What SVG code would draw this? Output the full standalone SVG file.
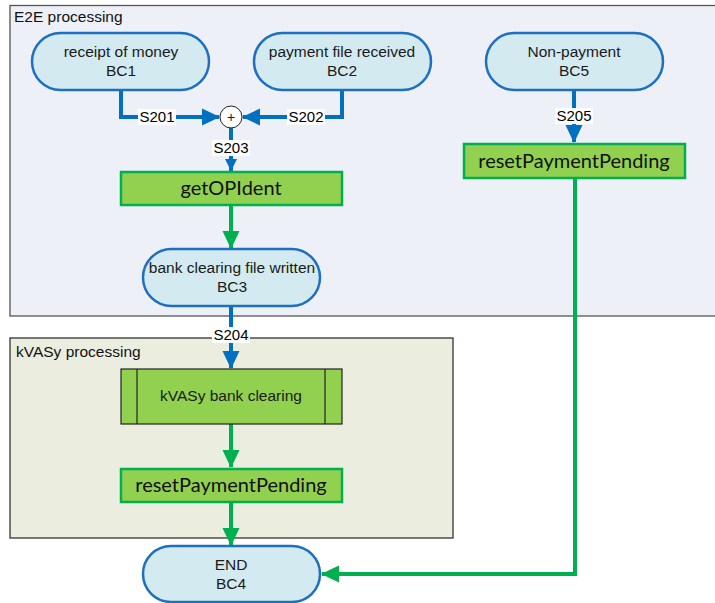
<svg xmlns="http://www.w3.org/2000/svg" width="715" height="603" viewBox="0 0 715 603">
<style>
.frame-e2e{fill:#EDF0F6;stroke:#555;stroke-width:1.3}
.frame-kv{fill:#EBEEDF;stroke:#333;stroke-width:1.3}
.ftitle{font-family:"Liberation Sans",Arial,sans-serif;font-size:15.5px;fill:#111}
.pill{fill:#D3EAF0;stroke:#1F6FC1;stroke-width:2.5}
.ptext{font-family:"Liberation Sans",Arial,sans-serif;font-size:15.5px;fill:#1a1a1a;text-anchor:middle}
.act{fill:#92D050;stroke:#00B050;stroke-width:2.5}
.atext{font-family:Lato,"Open Sans",sans-serif;font-size:20px;fill:#111;text-anchor:middle}
.sub{fill:#92D050;stroke:#222;stroke-width:1.2}
.blue{fill:none;stroke:#0070C0;stroke-width:4}
.green{fill:none;stroke:#00B050;stroke-width:4}
.lbl{font-family:"Liberation Sans",Arial,sans-serif;font-size:15px;fill:#000;text-anchor:middle}
.lblbg{fill:#fff}
</style>
<defs>
<marker id="ab" markerUnits="userSpaceOnUse" markerWidth="18" markerHeight="18" refX="17" refY="9" orient="auto"><path d="M0,0.5 L18,9 L0,17.5 z" fill="#0070C0"/></marker>
<marker id="abs" markerUnits="userSpaceOnUse" markerWidth="13" markerHeight="13" refX="12" refY="6.5" orient="auto"><path d="M0,0.5 L12,6.5 L0,12.5 z" fill="#0070C0"/></marker>
<marker id="ag" markerUnits="userSpaceOnUse" markerWidth="18" markerHeight="18" refX="17" refY="9" orient="auto"><path d="M0,0.5 L18,9 L0,17.5 z" fill="#00B050"/></marker>
</defs>

<g id="frame-e2e">
<rect class="frame-e2e" x="10" y="5.5" width="720" height="310.5"/>
<text class="ftitle" x="14" y="22">E2E processing</text>
</g>
<g id="frame-kvasy">
<rect class="frame-kv" x="10" y="338" width="443" height="200"/>
<text class="ftitle" x="16" y="357">kVASy processing</text>
</g>

<g id="connectors">
<path class="blue" d="M121,90 V117 H219" marker-end="url(#ab)"/>
<path class="blue" d="M342,90 V117 H243" marker-end="url(#ab)"/>
<path class="blue" d="M231,128 V171" marker-end="url(#abs)"/>
<path class="green" d="M231,205 V248" marker-end="url(#ag)"/>
<path class="blue" d="M231,306 V368" marker-end="url(#ab)"/>
<path class="blue" d="M574,90 V142" marker-end="url(#ab)"/>
<path class="green" d="M231,424 V467" marker-end="url(#ag)"/>
<path class="green" d="M231,503 V545" marker-end="url(#ag)"/>
<path class="green" d="M575,178 V574 H322" marker-end="url(#ag)"/>
<rect class="lblbg" x="138" y="109" width="38" height="16"/>
<text class="lbl" x="157" y="122">S201</text>
<rect class="lblbg" x="287" y="109" width="38" height="16"/>
<text class="lbl" x="306" y="122">S202</text>
<rect class="lblbg" x="212" y="140" width="38" height="16"/>
<text class="lbl" x="231" y="153">S203</text>
<rect class="lblbg" x="212" y="327" width="38" height="16"/>
<text class="lbl" x="231" y="340">S204</text>
<rect class="lblbg" x="555" y="108" width="38" height="16"/>
<text class="lbl" x="574" y="121">S205</text>
</g>

<g id="BC1">
<rect class="pill" x="32" y="33" width="177" height="57" rx="28.5"/>
<text class="ptext" x="121" y="57">receipt of money</text>
<text class="ptext" x="121" y="76">BC1</text>
</g>
<g id="BC2">
<rect class="pill" x="254" y="33" width="177" height="57" rx="28.5"/>
<text class="ptext" x="342" y="57">payment file received</text>
<text class="ptext" x="342" y="76">BC2</text>
</g>
<g id="BC5">
<rect class="pill" x="486" y="33" width="177" height="57" rx="28.5"/>
<text class="ptext" x="574" y="57">Non-payment</text>
<text class="ptext" x="574" y="76">BC5</text>
</g>
<g id="join">
<circle cx="231" cy="117" r="11" fill="#fff" stroke="#222" stroke-width="1"/>
<text class="ptext" x="231" y="122" style="font-size:14px">+</text>
</g>
<g id="getOPIdent">
<rect class="act" x="121" y="172" width="221" height="33"/>
<text class="atext" x="231" y="195">getOPIdent</text>
</g>
<g id="resetPaymentPending-1">
<rect class="act" x="464" y="144" width="221" height="34"/>
<text class="atext" x="574" y="168">resetPaymentPending</text>
</g>
<g id="BC3">
<rect class="pill" x="143" y="249" width="177" height="57" rx="28.5"/>
<text class="ptext" x="232" y="273">bank clearing file written</text>
<text class="ptext" x="232" y="292">BC3</text>
</g>
<g id="kvasy-bank-clearing">
<rect class="sub" x="121" y="369" width="221" height="55"/>
<line x1="137" y1="369" x2="137" y2="424" stroke="#222" stroke-width="1.2"/>
<line x1="325" y1="369" x2="325" y2="424" stroke="#222" stroke-width="1.2"/>
<text class="ptext" x="231" y="401">kVASy bank clearing</text>
</g>
<g id="resetPaymentPending-2">
<rect class="act" x="121" y="469" width="221" height="33"/>
<text class="atext" x="231" y="492">resetPaymentPending</text>
</g>
<g id="BC4">
<rect class="pill" x="143" y="546" width="177" height="56" rx="28"/>
<text class="ptext" x="231" y="570">END</text>
<text class="ptext" x="231" y="589">BC4</text>
</g>
</svg>
